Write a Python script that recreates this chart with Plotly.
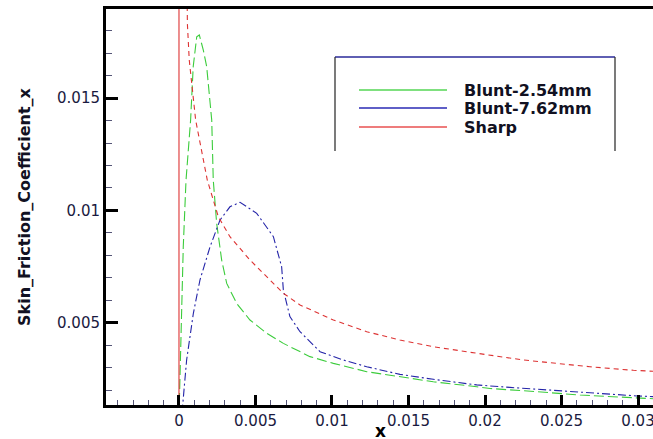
import plotly.graph_objects as go

# ---- data ----
blunt254_x = [0.0, 0.00007, 0.00018, 0.00028, 0.00046, 0.00076, 0.00093, 0.00116, 0.00133,
              0.00159, 0.00181, 0.00203, 0.00214, 0.00224, 0.00246, 0.00279, 0.00312, 0.00377,
              0.00464, 0.00573, 0.00682, 0.00856, 0.01009, 0.01227, 0.01444, 0.01662, 0.01946,
              0.02033, 0.02338, 0.02621, 0.03057, 0.0312]
blunt254_y = [0.0008, 0.00245, 0.0050, 0.00838, 0.01135, 0.01402, 0.0164, 0.01773, 0.01781,
              0.01714, 0.0164, 0.01492, 0.01402, 0.01135, 0.00944, 0.00779, 0.00675, 0.00586,
              0.00512, 0.00453, 0.00408, 0.00349, 0.00319, 0.00282, 0.0026, 0.00237, 0.00215,
              0.00207, 0.00193, 0.00178, 0.00163, 0.00161]

blunt762_x = [0.0002, 0.00028, 0.0005, 0.00094, 0.00137, 0.00203, 0.00268, 0.00333, 0.00399,
              0.00508, 0.00617, 0.00671, 0.00682, 0.00725, 0.00791, 0.00922, 0.01074, 0.01227,
              0.01444, 0.01662, 0.01946, 0.02163, 0.02469, 0.02795, 0.02991, 0.0312]
blunt762_y = [0.0010, 0.00156, 0.00334, 0.00542, 0.0069, 0.00838, 0.00957, 0.01016, 0.01036,
              0.00987, 0.00883, 0.00749, 0.00646, 0.00527, 0.0046, 0.00371, 0.00334, 0.00304,
              0.0027, 0.00248, 0.00223, 0.00212, 0.00197, 0.00181, 0.00174, 0.0017]

sharp_lead_x = [0.0, 0.0]
sharp_lead_y = [0.0012, 0.1]
sharp_x = [0.0005, 0.00052, 0.00055, 0.00067, 0.00083, 0.00109, 0.00185, 0.00224, 0.00257,
           0.00333, 0.00464, 0.00682, 0.00791, 0.01009, 0.01227, 0.01444, 0.01662, 0.01946,
           0.0225, 0.02469, 0.02686, 0.0297, 0.0312]
sharp_y = [0.0215, 0.0195, 0.0183, 0.0167, 0.01558, 0.01402, 0.01135, 0.01046, 0.00972,
           0.00883, 0.00779, 0.00631, 0.00579, 0.00512, 0.0046, 0.00423, 0.00393, 0.00364,
           0.00334, 0.00319, 0.00304, 0.00288, 0.00283]

series_names = ["Blunt-2.54mm", "Blunt-7.62mm", "Sharp"]
x_ticks = [0, 0.005, 0.01, 0.015, 0.02, 0.025, 0.03]
x_ticklabels = ["0", "0.005", "0.01", "0.015", "0.02", "0.025", "0.03"]
y_ticks = [0.005, 0.01, 0.015]
y_ticklabels = ["0.005", "0.01", "0.015"]

GREEN = "#3ccc3c"
BLUE = "#2424a8"
RED = "#dd3333"

fig = go.Figure()
fig.add_trace(go.Scatter(x=blunt254_x, y=blunt254_y, mode="lines", name=series_names[0],
                         line=dict(color=GREEN, width=1.1, dash="10px,4px"), showlegend=False))
fig.add_trace(go.Scatter(x=blunt762_x, y=blunt762_y, mode="lines", name=series_names[1],
                         line=dict(color=BLUE, width=1.1, dash="8px,3px,2px,3px"), showlegend=False))
fig.add_trace(go.Scatter(x=sharp_lead_x, y=sharp_lead_y, mode="lines", name=series_names[2],
                         line=dict(color=RED, width=1.1), showlegend=False))
fig.add_trace(go.Scatter(x=sharp_x, y=sharp_y, mode="lines", name=series_names[2],
                         line=dict(color=RED, width=1.1, dash="5px,4px"), showlegend=False))

W, H = 653, 439
L, R, T, B = 106, 0, 9, 439 - 405
pw, ph = W - L - R, H - T - B

def px(xp):
    return (xp - L) / pw

def py(yp):
    return 1 - (yp - T) / ph

# custom legend box (top, left, right lines only)
lx0, lx1, ly0, ly1 = 335, 615, 57, 151
fig.add_shape(type="line", xref="paper", yref="paper", x0=px(lx0), x1=px(lx1), y0=py(ly0), y1=py(ly0),
              line=dict(color="#2a2a9a", width=1.3))
fig.add_shape(type="line", xref="paper", yref="paper", x0=px(lx0), x1=px(lx0), y0=py(ly0), y1=py(ly1),
              line=dict(color="#333333", width=1.3))
fig.add_shape(type="line", xref="paper", yref="paper", x0=px(lx1), x1=px(lx1), y0=py(ly0), y1=py(ly1),
              line=dict(color="#333333", width=1.3))

leg_colors = ["#7fe07f", "#2a2ab4", "#e85050"]
leg_widths = [2.2, 1.4, 1.4]
leg_y = [90, 108, 127]
for name, c, w, yy in zip(series_names, leg_colors, leg_widths, leg_y):
    fig.add_shape(type="line", xref="paper", yref="paper", x0=px(359), x1=px(447), y0=py(yy), y1=py(yy),
                  line=dict(color=c, width=w))
    fig.add_annotation(xref="paper", yref="paper", x=px(462), y=py(yy), text=f"<b>{name}</b>",
                       showarrow=False, xanchor="left", yanchor="middle",
                       font=dict(family="DejaVu Sans", size=16, color="#111122"))

# axis titles as annotations for exact placement
fig.add_annotation(xref="paper", yref="paper", x=px(380), y=py(431), text="<b>x</b>",
                   showarrow=False, xanchor="center", yanchor="middle",
                   font=dict(family="DejaVu Sans", size=17, color="black"))
fig.add_annotation(xref="paper", yref="paper", x=px(24), y=py(207),
                   text="<b>Skin_Friction_Coefficient_x</b>", textangle=-90,
                   showarrow=False, xanchor="center", yanchor="middle",
                   font=dict(family="DejaVu Sans", size=16, color="#111122"))

tickfont = dict(family="DejaVu Sans", size=15, color="#1a1a40")

fig.update_layout(
    width=W, height=H,
    margin=dict(l=L, r=R, t=T, b=B, pad=0, autoexpand=False),
    paper_bgcolor="white", plot_bgcolor="white",
    showlegend=False,
    xaxis=dict(
        range=[-0.00477, 0.03098], showgrid=False, zeroline=False, automargin=False,
        showline=True, linecolor="black", linewidth=2.5, mirror=True,
        ticks="inside", ticklen=10, tickwidth=2.5, tickcolor="black",
        tickvals=x_ticks, ticktext=x_ticklabels, tickfont=tickfont,
        ticklabeloverflow="allow",
        minor=dict(dtick=0.001, tick0=0, ticks="inside", ticklen=5, tickwidth=1, tickcolor="#555577"),
    ),
    yaxis=dict(
        range=[0.001336, 0.018967], showgrid=False, zeroline=False, automargin=False,
        showline=True, linecolor="black", linewidth=3, mirror=False,
        ticks="inside", ticklen=12, tickwidth=3, tickcolor="black",
        tickvals=y_ticks, ticktext=y_ticklabels, tickfont=tickfont,
        minor=dict(dtick=0.001, tick0=0, ticks="inside", ticklen=6, tickwidth=1, tickcolor="#555577"),
    ),
)

fig.write_html("out.html",
               config={"displayModeBar": False},
               post_script="document.body.style.margin='0';document.body.style.overflow='hidden';")
